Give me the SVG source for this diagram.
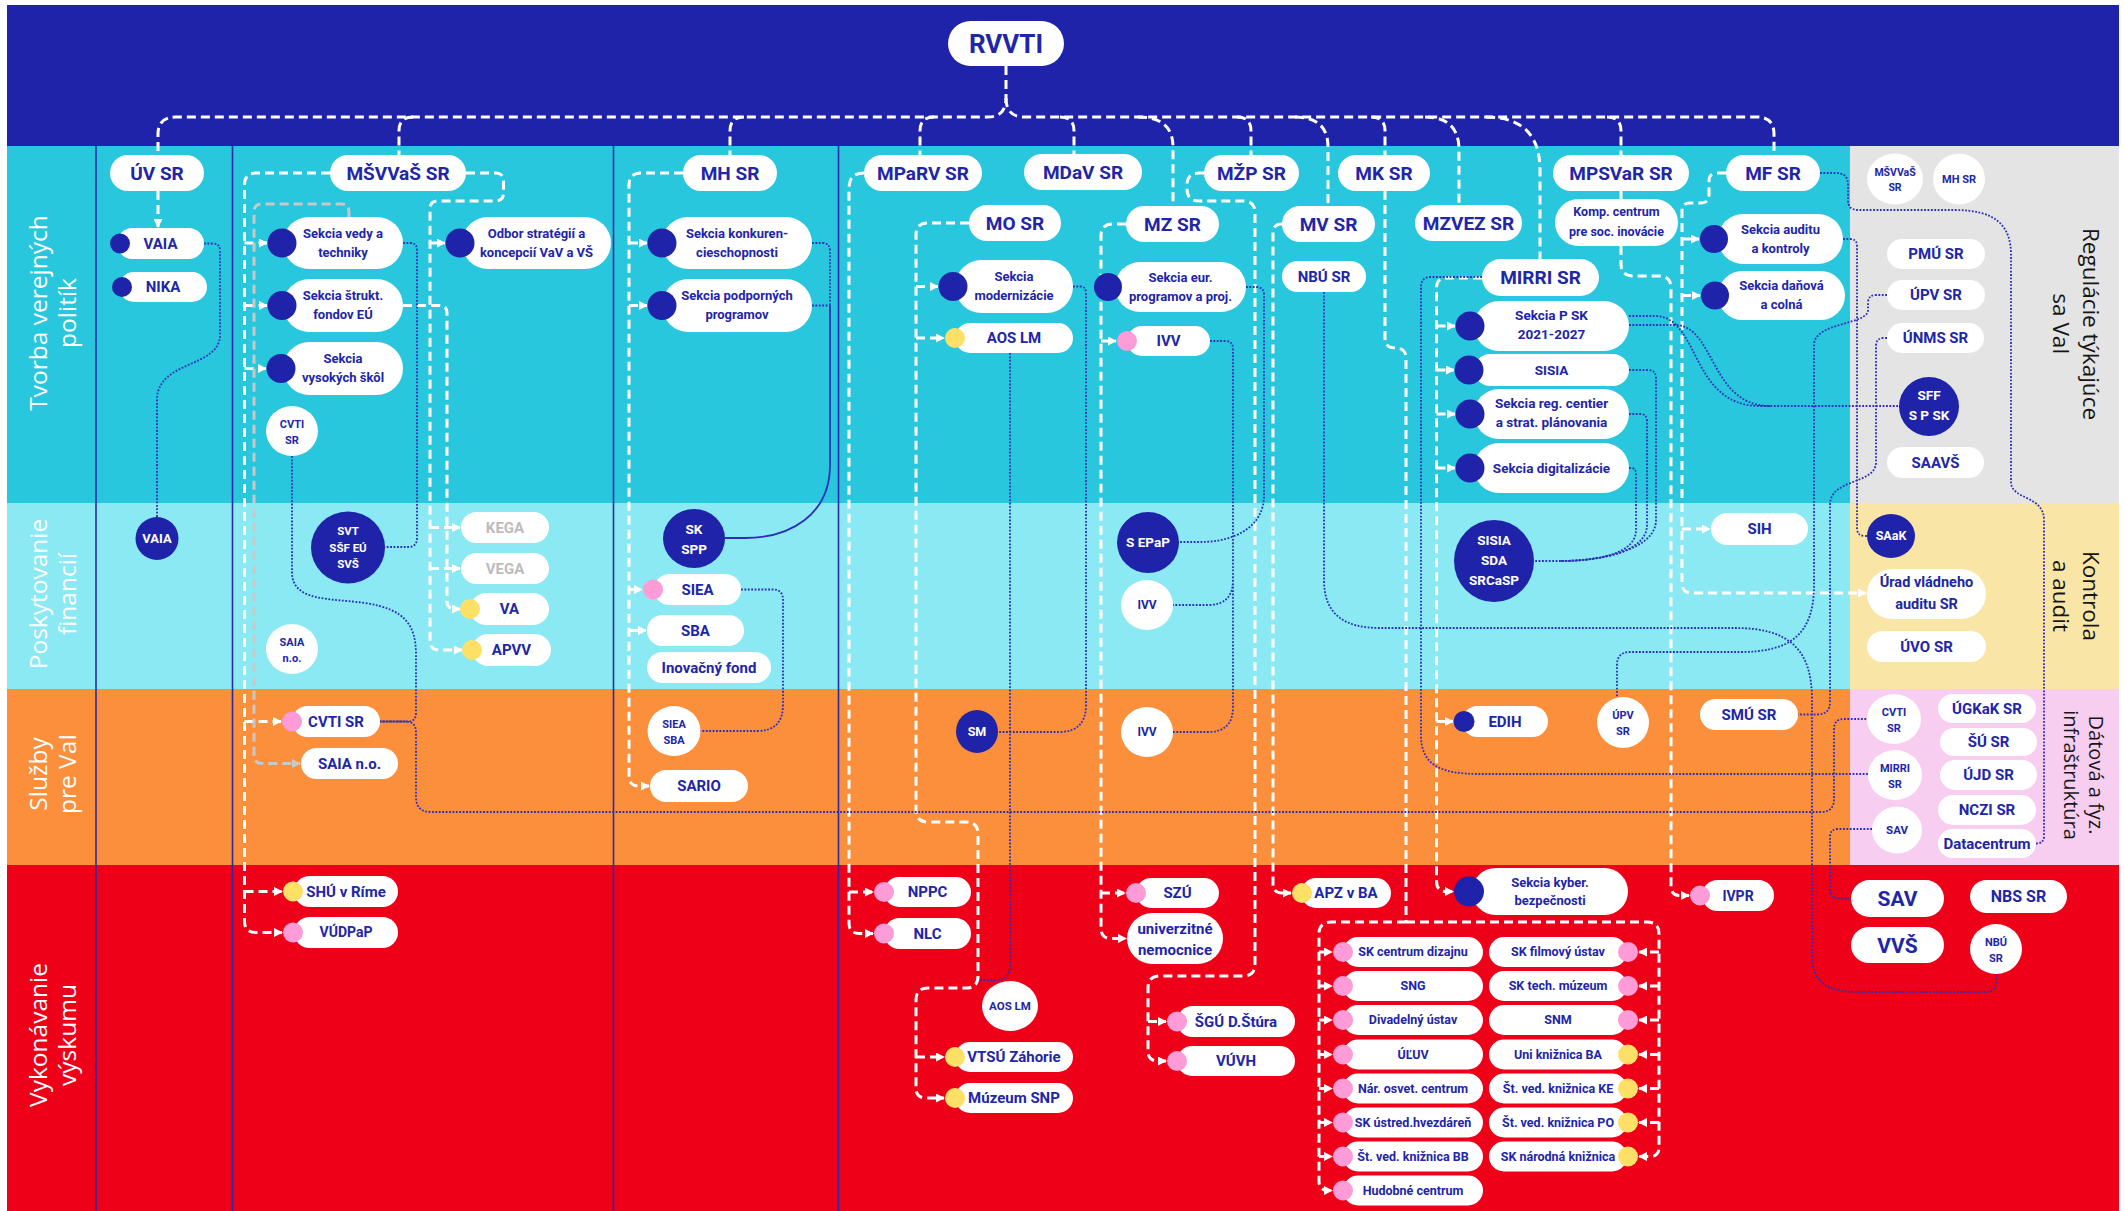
<svg xmlns="http://www.w3.org/2000/svg" width="2125" height="1211" viewBox="0 0 2125 1211">
<defs>
<style>
.n{fill:#fff}
.dk{fill:#1f23a9}
.pk{fill:#ff9bd6}
.yl{fill:#ffe066}
.t{font-family:Roboto,"Liberation Sans",Arial,sans-serif;font-weight:700;fill:#2125a8;text-anchor:middle}
.tw{fill:#fff}
.tg{fill:#bcbcbc}
.lbl{font-family:"Open Sans","Noto Sans",sans-serif;font-size:24.5px;fill:#fff;text-anchor:middle}
.lbr{font-family:"Open Sans","Noto Sans",sans-serif;font-size:22.5px;fill:#161616;text-anchor:middle}
.w{fill:none;stroke:#fff;stroke-width:3;stroke-dasharray:9 5}
.g{fill:none;stroke:#c8c8c8;stroke-width:3;stroke-dasharray:9 5}
.d{fill:none;stroke:#2b2eb8;stroke-width:1.8;stroke-dasharray:1.8 1.6}
.s{fill:none;stroke:#2b2eb8;stroke-width:1.8}
.a{marker-end:url(#aw)}
.ag{marker-end:url(#ag)}
.v{stroke:#2a2ca6;stroke-width:1.6}
</style>
<marker id="aw" viewBox="0 0 10 10" refX="9" refY="5" markerWidth="9" markerHeight="9" markerUnits="userSpaceOnUse" orient="auto"><path d="M0,0L10,5L0,10z" fill="#fff"/></marker>
<marker id="ag" viewBox="0 0 10 10" refX="9" refY="5" markerWidth="9" markerHeight="9" markerUnits="userSpaceOnUse" orient="auto"><path d="M0,0L10,5L0,10z" fill="#c8c8c8"/></marker>
</defs>

<g id="background">
<rect width="2125" height="1211" fill="#fff"/>
<rect x="7" y="5" width="2112" height="141" fill="#1f23a9"/>
<rect x="7" y="146" width="1843" height="357" fill="#29c7dd"/>
<rect x="1850" y="146" width="269" height="357" fill="#e4e4e4"/>
<rect x="7" y="503" width="1843" height="186" fill="#8be9f3"/>
<rect x="1850" y="503" width="269" height="186" fill="#f9e6a6"/>
<rect x="7" y="689" width="1843" height="176" fill="#fc8f3c"/>
<rect x="1850" y="689" width="269" height="176" fill="#f7cdf0"/>
<rect x="7" y="865" width="2112" height="346" fill="#ee0019"/>
<line class="v" x1="96" y1="146" x2="96" y2="1211"/>
<line class="v" x1="232.5" y1="146" x2="232.5" y2="1211"/>
<line class="v" x1="613.5" y1="146" x2="613.5" y2="1211"/>
<line class="v" x1="838.5" y1="146" x2="838.5" y2="1211"/>
</g>

<g id="labels">
<text class="lbl" transform="translate(47,313) rotate(-90)"><tspan x="0" y="0">Tvorba verejných</tspan><tspan x="0" y="29">politík</tspan></text>
<text class="lbl" transform="translate(47,594) rotate(-90)"><tspan x="0" y="0">Poskytovanie</tspan><tspan x="0" y="29">financií</tspan></text>
<text class="lbl" transform="translate(47,774) rotate(-90)"><tspan x="0" y="0">Služby</tspan><tspan x="0" y="29">pre VaI</tspan></text>
<text class="lbl" transform="translate(47,1035) rotate(-90)"><tspan x="0" y="0">Vykonávanie</tspan><tspan x="0" y="29">výskumu</tspan></text>
<text class="lbr" transform="translate(2083,324) rotate(90)"><tspan x="0" y="0">Regulácie týkajúce</tspan><tspan x="0" y="30">sa VaI</tspan></text>
<text class="lbr" transform="translate(2083,596) rotate(90)"><tspan x="0" y="0">Kontrola</tspan><tspan x="0" y="30">a audit</tspan></text>
<text class="lbr" transform="translate(2089,775) rotate(90)" style="font-size:20px"><tspan x="0" y="0">Dátová a fyz.</tspan><tspan x="0" y="25">infraštruktúra</tspan></text>
</g>

<g id="connectors">
<path class="w" d="M1006,66 V98 Q1006,117 988,117 H176 Q158,117 158,134 V155"/>
<path class="w" d="M1006,98 Q1006,117 1024,117 H1757 Q1774,117 1774,134 V155"/>
<path class="w" d="M413,117 Q399,117 399,131 V155"/>
<path class="w" d="M744,117 Q730,117 730,131 V155"/>
<path class="w" d="M934,117 Q920,117 920,131 V155"/>
<path class="w" d="M1060,117 Q1074,117 1074,131 V154"/>
<path class="w" d="M1138,117 Q1173,117 1173,147 V206"/>
<path class="w" d="M1237,117 Q1251,117 1251,131 V155"/>
<path class="w" d="M1295,117 Q1328,117 1328,147 V206"/>
<path class="w" d="M1371,117 Q1385,117 1385,131 V155"/>
<path class="w" d="M1425,117 Q1459,117 1459,150 V205"/>
<path class="w" d="M1486,117 C1522,117 1540,135 1540,170 V259"/>
<path class="w" d="M1607,117 Q1621,117 1621,131 V155"/>

<path class="w a" d="M158,191 V227"/>

<path class="w a" d="M330,173 H256 Q244.5,173 244.5,185 V921 Q244.5,932.5 256,932.5 H282"/>
<path class="w a" d="M244.5,243 H267"/>
<path class="w a" d="M244.5,305.5 H267"/>
<path class="w a" d="M244.5,368.5 H266"/>
<path class="w a" d="M244.5,721.5 H281"/>
<path class="w a" d="M244.5,891.5 H282"/>
<path class="g ag" d="M349,217 V212 Q349,204 341,204 H262 Q254,204 254,212 V755 Q254,763.5 262,763.5 H300"/>
<path class="w a" d="M466,173 H495 Q503.5,173 503.5,181 V193 Q503.5,201 495,201 H438 Q430,201 430,209 V641 Q430,650 439,650 H462"/>
<path class="w a" d="M430,243 H445"/>
<path class="w a" d="M430,527.5 H460"/>
<path class="w a" d="M430,568.5 H460"/>
<path class="w a" d="M403,305.5 H439 Q447,305.5 447,313 V601 Q447,609 455,609 H460"/>

<path class="w a" d="M683,173 H641 Q629,173 629,185 V776 Q629,786 639,786 H649"/>
<path class="w a" d="M629,243 H647"/>
<path class="w a" d="M629,305.5 H647"/>
<path class="w a" d="M629,589.5 H642"/>
<path class="w a" d="M629,630.5 H646"/>

<path class="w a" d="M864,173 Q849,173 849,188 V923 Q849,933.5 859,933.5 H873"/>
<path class="w a" d="M849,892 H873"/>

<path class="w a" d="M969,223 H928 Q916,223 916,235 V810 Q916,822 928,822 H966 Q978,822 978,834 V976 Q978,988 966,988 H928 Q916,988 916,1000 V1088 Q916,1098 926,1098 H944"/>
<path class="w a" d="M916,286.5 H938"/>
<path class="w a" d="M916,338 H944"/>
<path class="w a" d="M916,1057 H944"/>

<path class="w a" d="M1126,224 H1113 Q1101,224 1101,236 V928 Q1101,938.5 1111,938.5 H1126"/>
<path class="w a" d="M1101,341 H1116"/>
<path class="w a" d="M1101,893 H1125"/>

<path class="w a" d="M1204,173 H1199 Q1187,173 1187,185 V189 Q1187,201 1199,201 H1243 Q1255,201 1255,213 V964 Q1255,976 1243,976 H1160 Q1148,976 1148,988 V1051 Q1148,1061 1158,1061 H1166"/>
<path class="w a" d="M1148,1021.5 H1166"/>

<path class="w a" d="M1282,224 Q1273,224 1273,233 V884 Q1273,893 1282,893 H1291"/>

<path class="w" d="M1385,191 V338 Q1385,348 1395,348 Q1406,348 1406,358 V922"/>
<path class="w a" d="M1406,922 H1331 Q1319,922 1319,934 V1181 Q1319,1190.5 1328,1190.5 H1332"/>
<path class="w a" d="M1319,952 H1332"/>
<path class="w a" d="M1319,986 H1332"/>
<path class="w a" d="M1319,1020 H1332"/>
<path class="w a" d="M1319,1054.5 H1332"/>
<path class="w a" d="M1319,1088.5 H1332"/>
<path class="w a" d="M1319,1122.5 H1332"/>
<path class="w a" d="M1319,1156.5 H1332"/>
<path class="w a" d="M1406,922 H1647 Q1659,922 1659,934 V1147 Q1659,1156.5 1650,1156.5 H1639"/>
<path class="w a" d="M1659,952 H1639"/>
<path class="w a" d="M1659,986 H1639"/>
<path class="w a" d="M1659,1020 H1639"/>
<path class="w a" d="M1659,1054.5 H1639"/>
<path class="w a" d="M1659,1088.5 H1639"/>
<path class="w a" d="M1659,1122.5 H1639"/>

<path class="w a" d="M1482,278 H1446 Q1436.5,278 1436.5,288 V881 Q1436.5,891.5 1446,891.5 H1453"/>
<path class="w a" d="M1436.5,326 H1455"/>
<path class="w a" d="M1436.5,370 H1454"/>
<path class="w a" d="M1436.5,414 H1455"/>
<path class="w a" d="M1436.5,468 H1455"/>
<path class="w a" d="M1436.5,721.5 H1453"/>

<path class="w" d="M1621,191 V199"/>
<path class="w a" d="M1621,246 V264 Q1621,276 1633,276 H1659 Q1671,276 1671,288 V886 Q1671,895.5 1680,895.5 H1689"/>

<path class="w a" d="M1726,173 H1717 Q1709,173 1709,181 V195 Q1709,203 1701,203 H1690 Q1682,203 1682,211 V583 Q1682,593 1692,593 H1866"/>
<path class="w a" d="M1682,239 H1699"/>
<path class="w a" d="M1682,295.5 H1700"/>
<path class="w a" d="M1682,529 H1710"/>

<path class="d" d="M204,243.5 H213 Q220,243.5 220,251 V335 C220,368 157,360 157,400 V517"/>
<path class="d" d="M403,243 H410 Q417,243 417,250 V538 Q417,547 408,547 H385"/>
<path class="d" d="M292,456 V572 C292,602 330,598 365,603 C405,609 416,625 416,655 V713 Q416,721.5 408,721.5 H380"/>
<path class="d" d="M380,721.5 H405 Q416,721.5 416,732 V797 Q416,812 431,812 H1821 Q1834,812 1834,799 V729 Q1834,719 1844,719 H1867"/>
<path class="d" d="M812,243 H822 Q830,243 830,251 V305.5 M812,305.5 H830"/>
<path class="s" d="M830,305.5 V465 C830,515 790,538 745,538 H725"/>
<path class="d" d="M741,589.5 H773 Q783,589.5 783,600 V705 Q783,731 757,731 H700"/>
<path class="d" d="M1073,286.5 H1080 Q1086,286.5 1086,293 V705 Q1086,732 1059,732 H998"/>
<path class="d" d="M1010,353 V966 Q1010,980 996,980 H980"/>
<path class="d" d="M1246,287 H1256 Q1264,287 1264,295 V495 C1264,530 1230,542 1200,542 H1179"/>
<path class="d" d="M1210,341 H1225 Q1233,341 1233,349 V580 Q1233,605 1208,605 H1173 M1233,580 V707 Q1233,732 1208,732 H1173"/>
<path class="d" d="M1324,292 V580 C1324,615 1345,628 1380,628 H1735 C1790,628 1812,650 1812,700 V955 C1812,985 1830,992 1860,992 H1986 Q1996,992 1996,982 V974"/>
<path class="d" d="M1482,277 H1431 Q1421,277 1421,287 V735 C1421,765 1440,774 1480,774 H1869"/>
<path class="d" d="M1629,316 H1655 C1700,316 1690,406 1760,406 H1900"/>
<path class="d" d="M1629,325 H1675 C1715,325 1710,406 1770,406"/>
<path class="d" d="M1629,370 H1648 Q1656,370 1656,378 V520 C1656,550 1600,561 1560,561 H1534"/>
<path class="d" d="M1629,414 H1640 Q1647,414 1647,421 V525 C1647,552 1600,561 1560,561"/>
<path class="d" d="M1629,468 H1631 Q1636,468 1636,474 V530 C1636,553 1600,561 1560,561"/>
<path class="d" d="M1843,239 H1850 Q1857,239 1857,246 V528 Q1857,536 1865,536 H1867"/>
<path class="d" d="M1887,295 H1876 Q1868,295 1868,303 V310 C1868,325 1814,322 1814,345 V585 C1814,635 1790,652 1740,652 H1630 Q1617,652 1617,665 V697"/>
<path class="d" d="M1887,338 H1884 Q1876,338 1876,346 V462 C1876,485 1830,478 1830,505 V702 Q1830,714.5 1817,714.5 H1798"/>
<path class="d" d="M1820,173 H1836 Q1848,173 1848,185 V200 Q1848,210 1858,210 H1955 C1995,210 2011,225 2011,255 V482 C2011,500 2044,495 2044,520 V836 Q2044,843.5 2036,843.5"/>
<path class="d" d="M1872,829 H1838 Q1830,829 1830,837 V889 Q1830,898.5 1839,898.5 H1851"/>
</g>

<g id="n-rvvti"><rect class="n" x="948" y="21" width="116" height="45" rx="22.5"/><text class="t" x="1006" y="53" font-size="26">RVVTI</text></g>

<g id="n-uvsr"><rect class="n" x="110" y="155" width="94" height="36" rx="18"/><text class="t" x="157" y="179.7" font-size="19">ÚV SR</text></g>
<g id="n-msvvas"><rect class="n" x="330" y="155" width="136" height="36" rx="18"/><text class="t" x="398" y="179.7" font-size="19">MŠVVaŠ SR</text></g>
<g id="n-mhsr"><rect class="n" x="683" y="155" width="94" height="36" rx="18"/><text class="t" x="730" y="179.7" font-size="19">MH SR</text></g>
<g id="n-mparv"><rect class="n" x="864" y="155" width="118" height="36" rx="18"/><text class="t" x="923" y="179.7" font-size="19">MPaRV SR</text></g>
<g id="n-mdav"><rect class="n" x="1024" y="154" width="118" height="36" rx="18"/><text class="t" x="1083" y="178.7" font-size="19">MDaV SR</text></g>
<g id="n-mzp"><rect class="n" x="1204" y="155" width="95" height="36" rx="18"/><text class="t" x="1251.5" y="179.7" font-size="19">MŽP SR</text></g>
<g id="n-mk"><rect class="n" x="1338" y="155" width="92" height="36" rx="18"/><text class="t" x="1384" y="179.7" font-size="19">MK SR</text></g>
<g id="n-mpsvar"><rect class="n" x="1553" y="155" width="136" height="36" rx="18"/><text class="t" x="1621" y="179.7" font-size="19">MPSVaR SR</text></g>
<g id="n-mf"><rect class="n" x="1726" y="155" width="94" height="36" rx="18"/><text class="t" x="1773" y="179.7" font-size="19">MF SR</text></g>
<g id="n-mo"><rect class="n" x="969" y="205" width="92" height="36" rx="18"/><text class="t" x="1015" y="229.7" font-size="19">MO SR</text></g>
<g id="n-mz"><rect class="n" x="1126" y="206" width="93" height="36" rx="18"/><text class="t" x="1172.5" y="230.7" font-size="19">MZ SR</text></g>
<g id="n-mv"><rect class="n" x="1282" y="206" width="93" height="36" rx="18"/><text class="t" x="1328.5" y="230.7" font-size="19">MV SR</text></g>
<g id="n-mzvez"><rect class="n" x="1415" y="205" width="107" height="36" rx="18"/><text class="t" x="1468.5" y="229.7" font-size="19">MZVEZ SR</text></g>
<g id="n-mirri"><rect class="n" x="1482" y="259" width="117" height="37" rx="18.5"/><text class="t" x="1540.5" y="284.2" font-size="19">MIRRI SR</text></g>
<g id="n-nbu"><rect class="n" x="1282" y="261" width="84" height="31" rx="15.5"/><text class="t" x="1324" y="281.8" font-size="15">NBÚ SR</text></g>
<g id="n-komp"><rect class="n" x="1555" y="199" width="123" height="47" rx="23.5"/><text class="t" font-size="12.5"><tspan x="1616.5" y="216">Komp. centrum</tspan><tspan x="1616.5" y="235.5">pre soc. inovácie</tspan></text></g>

<g id="n-vaia"><rect class="n" x="117" y="228" width="87" height="31" rx="15.5"/><circle class="dk" cx="120" cy="243.5" r="10"/><text class="t" x="160.5" y="248.8" font-size="15">VAIA</text></g>
<g id="n-nika"><rect class="n" x="119" y="272" width="88" height="30" rx="15"/><circle class="dk" cx="122" cy="287" r="10"/><text class="t" x="163" y="292.3" font-size="15">NIKA</text></g>
<g id="n-vaia2"><ellipse class="dk" cx="157" cy="538.5" rx="21.5" ry="21.5"/><text class="t tw" x="157" y="543.2" font-size="13">VAIA</text></g>

<g id="n-svt"><rect class="n" x="283" y="217" width="120" height="52" rx="26"/><circle class="dk" cx="282" cy="243" r="14.5"/><text class="t" font-size="13"><tspan x="343" y="237.5">Sekcia vedy a</tspan><tspan x="343" y="256.5">techniky</tspan></text></g>
<g id="n-ssf"><rect class="n" x="283" y="279" width="120" height="53" rx="26.5"/><circle class="dk" cx="282" cy="305.5" r="14.5"/><text class="t" font-size="13"><tspan x="343" y="300">Sekcia štrukt.</tspan><tspan x="343" y="319">fondov EÚ</tspan></text></g>
<g id="n-svs"><rect class="n" x="283" y="342" width="120" height="53" rx="26.5"/><circle class="dk" cx="281" cy="368.5" r="14.5"/><text class="t" font-size="13"><tspan x="343" y="363">Sekcia</tspan><tspan x="343" y="382">vysokých škôl</tspan></text></g>
<g id="n-cvti1"><ellipse class="n" cx="292" cy="431" rx="26" ry="25"/><text class="t" font-size="11"><tspan x="292" y="427.5">CVTI</tspan><tspan x="292" y="443.5">SR</tspan></text></g>
<g id="n-odbor"><rect class="n" x="462" y="217" width="149" height="52" rx="26"/><circle class="dk" cx="460" cy="243" r="14.5"/><text class="t" font-size="13"><tspan x="536.5" y="237.5">Odbor stratégií a</tspan><tspan x="536.5" y="256.5">koncepcií VaV a VŠ</tspan></text></g>
<g id="n-sekr"><ellipse class="dk" cx="348" cy="547.5" rx="37" ry="36"/><text class="t tw" font-size="11.5"><tspan x="348" y="535">SVT</tspan><tspan x="348" y="551.7">SŠF EÚ</tspan><tspan x="348" y="568.3">SVŠ</tspan></text></g>
<g id="n-kega"><rect class="n" x="461" y="512" width="88" height="31" rx="15.5"/><text class="t tg" x="505" y="532.8" font-size="15">KEGA</text></g>
<g id="n-vega"><rect class="n" x="461" y="553" width="88" height="31" rx="15.5"/><text class="t tg" x="505" y="573.8" font-size="15">VEGA</text></g>
<g id="n-va"><rect class="n" x="470" y="593" width="79" height="32" rx="16"/><circle class="yl" cx="470" cy="609" r="10"/><text class="t" x="509.5" y="614.3" font-size="15">VA</text></g>
<g id="n-apvv"><rect class="n" x="472" y="634" width="79" height="32" rx="16"/><circle class="yl" cx="472" cy="650" r="10"/><text class="t" x="511.5" y="655.3" font-size="15">APVV</text></g>
<g id="n-saia1"><ellipse class="n" cx="292" cy="649" rx="26" ry="25"/><text class="t" font-size="11"><tspan x="292" y="645.5">SAIA</tspan><tspan x="292" y="661.5">n.o.</tspan></text></g>
<g id="n-cvti2"><rect class="n" x="292" y="706" width="88" height="31" rx="15.5"/><circle class="pk" cx="292" cy="721.5" r="10"/><text class="t" x="336" y="726.8" font-size="15">CVTI SR</text></g>
<g id="n-saia2"><rect class="n" x="301" y="748" width="97" height="31" rx="15.5"/><text class="t" x="349.5" y="768.8" font-size="15">SAIA n.o.</text></g>
<g id="n-shu"><rect class="n" x="294" y="876" width="104" height="31" rx="15.5"/><circle class="yl" cx="293" cy="891.5" r="10"/><text class="t" x="346" y="896.8" font-size="15">SHÚ v Ríme</text></g>
<g id="n-vudpap"><rect class="n" x="294" y="917" width="104" height="31" rx="15.5"/><circle class="pk" cx="293" cy="932.5" r="10"/><text class="t" x="346" y="937.4" font-size="14">VÚDPaP</text></g>

<g id="n-konk"><rect class="n" x="662" y="217" width="150" height="52" rx="26"/><circle class="dk" cx="662" cy="243" r="14.5"/><text class="t" font-size="13"><tspan x="737" y="237.5">Sekcia konkuren-</tspan><tspan x="737" y="256.5">cieschopnosti</tspan></text></g>
<g id="n-podp"><rect class="n" x="662" y="279" width="150" height="53" rx="26.5"/><circle class="dk" cx="662" cy="305.5" r="14.5"/><text class="t" font-size="13"><tspan x="737" y="300">Sekcia podporných</tspan><tspan x="737" y="319">programov</tspan></text></g>
<g id="n-skspp"><ellipse class="dk" cx="694" cy="538.5" rx="31" ry="29.5"/><text class="t tw" font-size="13.5"><tspan x="694" y="533.5">SK</tspan><tspan x="694" y="553.5">SPP</tspan></text></g>
<g id="n-siea"><rect class="n" x="654" y="574" width="87" height="31" rx="15.5"/><circle class="pk" cx="653" cy="589.5" r="10"/><text class="t" x="697.5" y="594.8" font-size="15">SIEA</text></g>
<g id="n-sba"><rect class="n" x="647" y="615" width="97" height="31" rx="15.5"/><text class="t" x="695.5" y="635.8" font-size="15">SBA</text></g>
<g id="n-inov"><rect class="n" x="647" y="652" width="124" height="31" rx="15.5"/><text class="t" x="709" y="672.8" font-size="15">Inovačný fond</text></g>
<g id="n-sieasba"><ellipse class="n" cx="674" cy="731" rx="26.5" ry="25"/><text class="t" font-size="11"><tspan x="674" y="727.5">SIEA</tspan><tspan x="674" y="743.5">SBA</tspan></text></g>
<g id="n-sario"><rect class="n" x="650" y="770" width="98" height="32" rx="16"/><text class="t" x="699" y="791.3" font-size="15">SARIO</text></g>

<g id="n-nppc"><rect class="n" x="884" y="877" width="87" height="30" rx="15"/><circle class="pk" cx="884" cy="892" r="10"/><text class="t" x="927.5" y="897.3" font-size="15">NPPC</text></g>
<g id="n-nlc"><rect class="n" x="884" y="918" width="87" height="31" rx="15.5"/><circle class="pk" cx="884" cy="933.5" r="10"/><text class="t" x="927.5" y="938.8" font-size="15">NLC</text></g>

<g id="n-modern"><rect class="n" x="955" y="260" width="118" height="53" rx="26.5"/><circle class="dk" cx="953" cy="286.5" r="14.5"/><text class="t" font-size="13"><tspan x="1014" y="281">Sekcia</tspan><tspan x="1014" y="300">modernizácie</tspan></text></g>
<g id="n-aos1"><rect class="n" x="955" y="323" width="118" height="30" rx="15"/><circle class="yl" cx="955" cy="338" r="10"/><text class="t" x="1014" y="343.3" font-size="15">AOS LM</text></g>
<g id="n-sm"><ellipse class="dk" cx="977" cy="731.5" rx="21" ry="21.5"/><text class="t tw" x="977" y="736" font-size="12.5">SM</text></g>
<g id="n-aos2"><ellipse class="n" cx="1010" cy="1006" rx="28" ry="25"/><text class="t" x="1010" y="1010" font-size="11.5">AOS LM</text></g>
<g id="n-vtsu"><rect class="n" x="955" y="1042" width="118" height="30" rx="15"/><circle class="yl" cx="955" cy="1057" r="10"/><text class="t" x="1014" y="1062.3" font-size="15">VTSÚ Záhorie</text></g>
<g id="n-muzeum"><rect class="n" x="955" y="1083" width="118" height="30" rx="15"/><circle class="yl" cx="955" cy="1098" r="10"/><text class="t" x="1014" y="1103.3" font-size="15">Múzeum SNP</text></g>

<g id="n-eur"><rect class="n" x="1115" y="262" width="131" height="50" rx="25"/><circle class="dk" cx="1108" cy="287" r="14"/><text class="t" font-size="13"><tspan x="1180.5" y="281.5">Sekcia eur.</tspan><tspan x="1180.5" y="300.5">programov a proj.</tspan></text></g>
<g id="n-ivv1"><rect class="n" x="1127" y="326" width="83" height="30" rx="15"/><circle class="pk" cx="1127" cy="341" r="10"/><text class="t" x="1168.5" y="346.3" font-size="15">IVV</text></g>
<g id="n-sepap"><ellipse class="dk" cx="1148" cy="542.5" rx="31" ry="30.5"/><text class="t tw" x="1148" y="547.3" font-size="13.5">S EPaP</text></g>
<g id="n-ivv2"><ellipse class="n" cx="1147" cy="605" rx="26" ry="25"/><text class="t" x="1147" y="609.3" font-size="12">IVV</text></g>
<g id="n-ivv3"><ellipse class="n" cx="1147" cy="732" rx="26" ry="25"/><text class="t" x="1147" y="736.3" font-size="12">IVV</text></g>
<g id="n-szu"><rect class="n" x="1136" y="878" width="83" height="30" rx="15"/><circle class="pk" cx="1136" cy="893" r="10"/><text class="t" x="1177.5" y="898.3" font-size="15">SZÚ</text></g>
<g id="n-unem"><rect class="n" x="1127" y="913" width="96" height="51" rx="25.5"/><text class="t" font-size="15"><tspan x="1175" y="933.5">univerzitné</tspan><tspan x="1175" y="954.5">nemocnice</tspan></text></g>

<g id="n-sgu"><rect class="n" x="1177" y="1006" width="118" height="31" rx="15.5"/><circle class="pk" cx="1177" cy="1021.5" r="10"/><text class="t" x="1236" y="1026.8" font-size="15">ŠGÚ D.Štúra</text></g>
<g id="n-vuvh"><rect class="n" x="1177" y="1046" width="118" height="30" rx="15"/><circle class="pk" cx="1177" cy="1061" r="10"/><text class="t" x="1236" y="1066.3" font-size="15">VÚVH</text></g>
<g id="n-apz"><rect class="n" x="1301" y="878" width="90" height="30" rx="15"/><circle class="yl" cx="1302" cy="893" r="10"/><text class="t" x="1346" y="898.3" font-size="15">APZ v BA</text></g>

<g id="n-psk"><rect class="n" x="1474" y="301" width="155" height="50" rx="25"/><circle class="dk" cx="1470" cy="326" r="14.5"/><text class="t" font-size="13.5"><tspan x="1551.5" y="319.5">Sekcia P SK</tspan><tspan x="1551.5" y="339">2021-2027</tspan></text></g>
<g id="n-sisia"><rect class="n" x="1474" y="354" width="155" height="32" rx="16"/><circle class="dk" cx="1469" cy="370" r="14.5"/><text class="t" x="1551.5" y="374.8" font-size="13.5">SISIA</text></g>
<g id="n-reg"><rect class="n" x="1474" y="389" width="155" height="50" rx="25"/><circle class="dk" cx="1470" cy="414" r="14.5"/><text class="t" font-size="13.5"><tspan x="1551.5" y="407.7">Sekcia reg. centier</tspan><tspan x="1551.5" y="427.3">a strat. plánovania</tspan></text></g>
<g id="n-dig"><rect class="n" x="1474" y="443" width="155" height="50" rx="25"/><circle class="dk" cx="1470" cy="468" r="14.5"/><text class="t" x="1551.5" y="472.8" font-size="13.5">Sekcia digitalizácie</text></g>
<g id="n-sisiasda"><ellipse class="dk" cx="1494" cy="561" rx="40" ry="41"/><text class="t tw" font-size="13.5"><tspan x="1494" y="545">SISIA</tspan><tspan x="1494" y="565">SDA</tspan><tspan x="1494" y="584.5">SRCaSP</tspan></text></g>
<g id="n-edih"><rect class="n" x="1462" y="706" width="86" height="31" rx="15.5"/><circle class="dk" cx="1464" cy="721.5" r="10.5"/><text class="t" x="1505" y="726.8" font-size="15">EDIH</text></g>
<g id="n-kyber"><rect class="n" x="1472" y="868" width="156" height="47" rx="23.5"/><circle class="dk" cx="1469" cy="891.5" r="15"/><text class="t" font-size="13"><tspan x="1550" y="886.5">Sekcia kyber.</tspan><tspan x="1550" y="905">bezpečnosti</tspan></text></g>

<g id="n-audit"><rect class="n" x="1718" y="214" width="125" height="50" rx="25"/><circle class="dk" cx="1714" cy="239" r="14"/><text class="t" font-size="13"><tspan x="1780.5" y="233.5">Sekcia auditu</tspan><tspan x="1780.5" y="252.5">a kontroly</tspan></text></g>
<g id="n-danova"><rect class="n" x="1718" y="271" width="127" height="49" rx="24.5"/><circle class="dk" cx="1715" cy="295.5" r="14"/><text class="t" font-size="13"><tspan x="1781.5" y="290">Sekcia daňová</tspan><tspan x="1781.5" y="309">a colná</tspan></text></g>
<g id="n-sih"><rect class="n" x="1711" y="513" width="97" height="32" rx="16"/><text class="t" x="1759.5" y="534.3" font-size="15">SIH</text></g>
<g id="n-upv2"><ellipse class="n" cx="1623" cy="722.5" rx="26" ry="25.5"/><text class="t" font-size="11"><tspan x="1623" y="719">ÚPV</tspan><tspan x="1623" y="735">SR</tspan></text></g>
<g id="n-smu"><rect class="n" x="1700" y="699" width="98" height="31" rx="15.5"/><text class="t" x="1749" y="719.8" font-size="15">SMÚ SR</text></g>
<g id="n-ivpr"><rect class="n" x="1702" y="880" width="72" height="31" rx="15.5"/><circle class="pk" cx="1700" cy="895.5" r="10"/><text class="t" x="1738" y="900.5" font-size="14">IVPR</text></g>

<g id="n-r-msvvas"><ellipse class="n" cx="1895" cy="179" rx="28" ry="25.5"/><text class="t" font-size="10.5"><tspan x="1895" y="175.5">MŠVVaŠ</tspan><tspan x="1895" y="191">SR</tspan></text></g>
<g id="n-r-mh"><ellipse class="n" cx="1959" cy="179" rx="26" ry="25.5"/><text class="t" x="1959" y="183" font-size="11">MH SR</text></g>
<g id="n-pmu"><rect class="n" x="1887" y="239" width="98" height="30" rx="15"/><text class="t" x="1936" y="259.3" font-size="15">PMÚ SR</text></g>
<g id="n-upv1"><rect class="n" x="1887" y="280" width="98" height="30" rx="15"/><text class="t" x="1936" y="300.3" font-size="15">ÚPV SR</text></g>
<g id="n-unms"><rect class="n" x="1887" y="323" width="97" height="30" rx="15"/><text class="t" x="1935.5" y="343.3" font-size="15">ÚNMS SR</text></g>
<g id="n-sff"><ellipse class="dk" cx="1929" cy="406.5" rx="30" ry="29.5"/><text class="t tw" font-size="13.5"><tspan x="1929" y="400">SFF</tspan><tspan x="1929" y="420">S P SK</tspan></text></g>
<g id="n-saavs"><rect class="n" x="1887" y="447" width="97" height="31" rx="15.5"/><text class="t" x="1935.5" y="467.8" font-size="15">SAAVŠ</text></g>
<g id="n-saak"><ellipse class="dk" cx="1891" cy="536" rx="24" ry="22"/><text class="t tw" x="1891" y="540.3" font-size="12.5">SAaK</text></g>
<g id="n-uvaudit"><rect class="n" x="1867" y="569" width="119" height="50" rx="25"/><text class="t" font-size="14.5"><tspan x="1926.5" y="587">Úrad vládneho</tspan><tspan x="1926.5" y="609">auditu SR</tspan></text></g>
<g id="n-uvo"><rect class="n" x="1867" y="631" width="119" height="31" rx="15.5"/><text class="t" x="1926.5" y="651.8" font-size="15">ÚVO SR</text></g>
<g id="n-r-cvti"><ellipse class="n" cx="1894" cy="719" rx="27" ry="25"/><text class="t" font-size="11"><tspan x="1894" y="715.5">CVTI</tspan><tspan x="1894" y="731.5">SR</tspan></text></g>
<g id="n-r-mirri"><ellipse class="n" cx="1895" cy="775" rx="27" ry="25"/><text class="t" font-size="11"><tspan x="1895" y="771.5">MIRRI</tspan><tspan x="1895" y="787.5">SR</tspan></text></g>
<g id="n-r-sav"><ellipse class="n" cx="1897" cy="830" rx="25" ry="23.5"/><text class="t" x="1897" y="834" font-size="11.5">SAV</text></g>
<g id="n-ugkk"><rect class="n" x="1938" y="694" width="98" height="29" rx="14.5"/><text class="t" x="1987" y="713.8" font-size="15">ÚGKaK SR</text></g>
<g id="n-su"><rect class="n" x="1940" y="728" width="97" height="28" rx="14"/><text class="t" x="1988.5" y="747.3" font-size="15">ŠÚ SR</text></g>
<g id="n-ujd"><rect class="n" x="1940" y="760" width="97" height="30" rx="15"/><text class="t" x="1988.5" y="780.3" font-size="15">ÚJD SR</text></g>
<g id="n-nczi"><rect class="n" x="1938" y="795" width="98" height="30" rx="15"/><text class="t" x="1987" y="815.3" font-size="15">NCZI SR</text></g>
<g id="n-dc"><rect class="n" x="1938" y="829" width="98" height="29" rx="14.5"/><text class="t" x="1987" y="848.8" font-size="15">Datacentrum</text></g>
<g id="n-sav"><rect class="n" x="1851" y="880" width="93" height="37" rx="18.5"/><text class="t" x="1897.5" y="906.3" font-size="21">SAV</text></g>
<g id="n-nbs"><rect class="n" x="1970" y="880" width="97" height="33" rx="16.5"/><text class="t" x="2018.5" y="902.2" font-size="16">NBS SR</text></g>
<g id="n-vvs"><rect class="n" x="1851" y="927" width="93" height="36" rx="18"/><text class="t" x="1897.5" y="952.5" font-size="21">VVŠ</text></g>
<g id="n-nbu2"><ellipse class="n" cx="1996" cy="949" rx="26" ry="25"/><text class="t" font-size="11"><tspan x="1996" y="945.5">NBÚ</tspan><tspan x="1996" y="961.5">SR</tspan></text></g>

<g id="n-k-dizajn"><rect class="n" x="1343" y="937" width="140" height="30" rx="15"/><circle class="pk" cx="1343" cy="952" r="10"/><text class="t" x="1413" y="956.4" font-size="12.5">SK centrum dizajnu</text></g>
<g id="n-k-sng"><rect class="n" x="1343" y="971" width="140" height="30" rx="15"/><circle class="pk" cx="1343" cy="986" r="10"/><text class="t" x="1413" y="990.4" font-size="12.5">SNG</text></g>
<g id="n-k-div"><rect class="n" x="1343" y="1005" width="140" height="30" rx="15"/><circle class="pk" cx="1343" cy="1020" r="10"/><text class="t" x="1413" y="1024.4" font-size="12.5">Divadelný ústav</text></g>
<g id="n-k-uluv"><rect class="n" x="1343" y="1039.5" width="140" height="30" rx="15"/><circle class="pk" cx="1343" cy="1054.5" r="10"/><text class="t" x="1413" y="1058.9" font-size="12.5">ÚĽUV</text></g>
<g id="n-k-nos"><rect class="n" x="1343" y="1073.5" width="140" height="30" rx="15"/><circle class="pk" cx="1343" cy="1088.5" r="10"/><text class="t" x="1413" y="1092.9" font-size="12.5">Nár. osvet. centrum</text></g>
<g id="n-k-hvezd"><rect class="n" x="1343" y="1107.5" width="140" height="30" rx="15"/><circle class="pk" cx="1343" cy="1122.5" r="10"/><text class="t" x="1413" y="1126.9" font-size="12.5">SK ústred.hvezdáreň</text></g>
<g id="n-k-svkbb"><rect class="n" x="1343" y="1141.5" width="140" height="30" rx="15"/><circle class="pk" cx="1343" cy="1156.5" r="10"/><text class="t" x="1413" y="1160.9" font-size="12.5">Št. ved. knižnica BB</text></g>
<g id="n-k-hud"><rect class="n" x="1343" y="1175.5" width="140" height="30" rx="15"/><circle class="pk" cx="1343" cy="1190.5" r="10"/><text class="t" x="1413" y="1194.9" font-size="12.5">Hudobné centrum</text></g>
<g id="n-k-film"><rect class="n" x="1489" y="937" width="138" height="30" rx="15"/><circle class="pk" cx="1628" cy="952" r="10"/><text class="t" x="1558" y="956.4" font-size="12.5">SK filmový ústav</text></g>
<g id="n-k-tech"><rect class="n" x="1489" y="971" width="138" height="30" rx="15"/><circle class="pk" cx="1628" cy="986" r="10"/><text class="t" x="1558" y="990.4" font-size="12.5">SK tech. múzeum</text></g>
<g id="n-k-snm"><rect class="n" x="1489" y="1005" width="138" height="30" rx="15"/><circle class="pk" cx="1628" cy="1020" r="10"/><text class="t" x="1558" y="1024.4" font-size="12.5">SNM</text></g>
<g id="n-k-uniba"><rect class="n" x="1489" y="1039.5" width="138" height="30" rx="15"/><circle class="yl" cx="1628" cy="1054.5" r="10"/><text class="t" x="1558" y="1058.9" font-size="12.5">Uni knižnica BA</text></g>
<g id="n-k-svkke"><rect class="n" x="1489" y="1073.5" width="138" height="30" rx="15"/><circle class="yl" cx="1628" cy="1088.5" r="10"/><text class="t" x="1558" y="1092.9" font-size="12.5">Št. ved. knižnica KE</text></g>
<g id="n-k-svkpo"><rect class="n" x="1489" y="1107.5" width="138" height="30" rx="15"/><circle class="yl" cx="1628" cy="1122.5" r="10"/><text class="t" x="1558" y="1126.9" font-size="12.5">Št. ved. knižnica PO</text></g>
<g id="n-k-snk"><rect class="n" x="1489" y="1141.5" width="138" height="30" rx="15"/><circle class="yl" cx="1628" cy="1156.5" r="10"/><text class="t" x="1558" y="1160.9" font-size="12.5">SK národná knižnica</text></g>
</svg>
